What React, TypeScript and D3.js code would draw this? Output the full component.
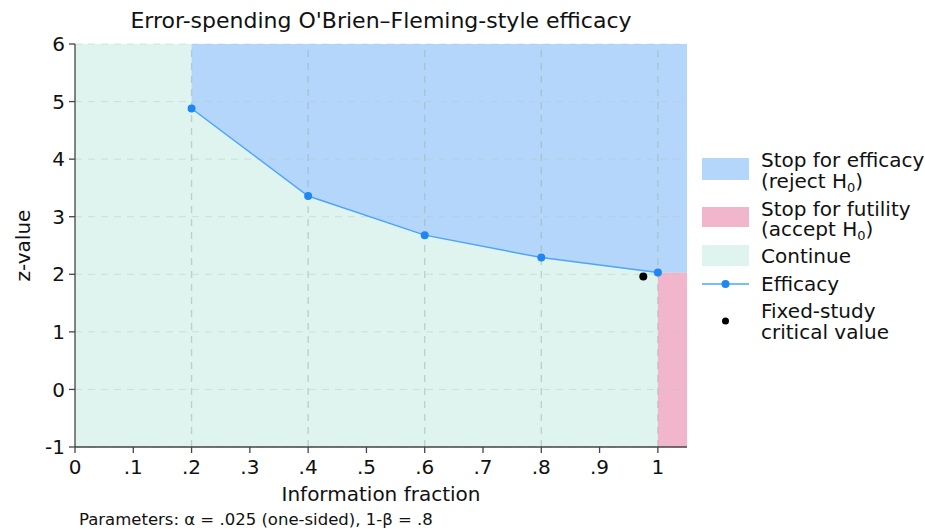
import React from "react";
import * as d3 from "d3";

const infoFrac = [0.2, 0.4, 0.6, 0.8, 1.0];
const efficacyZ = [4.88, 3.36, 2.68, 2.29, 2.03];
const fixedX = 0.975;
const fixedZ = 1.96;
const xTicks = [0, 0.1, 0.2, 0.3, 0.4, 0.5, 0.6, 0.7, 0.8, 0.9, 1];
const yTicks = [-1, 0, 1, 2, 3, 4, 5, 6];

const W = 925;
const H = 529;
const margin = { left: 75, right: 238, top: 44, bottom: 82 };
const font = "DejaVu Sans, sans-serif";

const fmtX = (v: number) => (v === 0 ? "0" : v === 1 ? "1" : d3.format(".1f")(v).replace(/^0/, ""));

const App = () => {
  const x = d3.scaleLinear().domain([0, 1.05]).range([margin.left, W - margin.right]);
  const y = d3.scaleLinear().domain([-1, 6]).range([H - margin.bottom, margin.top]);
  const pts = infoFrac.map((f, i) => [f, efficacyZ[i]] as [number, number]);
  const last = pts[pts.length - 1];

  const effArea = d3
    .area<[number, number]>()
    .x(d => x(d[0]))
    .y0(y(6))
    .y1(d => y(d[1]));
  const effPts = [...pts, [1.05, last[1]] as [number, number]];
  const line = d3
    .line<[number, number]>()
    .x(d => x(d[0]))
    .y(d => y(d[1]));

  const lx = 702;
  const tx = 761;
  return (
    <svg width={W} height={H} style={{ position: "absolute", left: 0, top: 0 }} fontFamily={font}>
      <rect x={x(0)} y={y(6)} width={x(1.05) - x(0)} height={y(-1) - y(6)} fill="#dff4ee" />
      <path d={effArea(effPts) || ""} fill="#b5d6fb" />
      <rect x={x(1)} y={y(last[1])} width={x(1.05) - x(1)} height={y(-1) - y(last[1])} fill="#f1b6cb" />
      {yTicks.map(t => (
        <line key={"gy" + t} x1={x(0)} x2={x(1.05)} y1={y(t)} y2={y(t)} stroke="#b0c8c0" strokeOpacity={0.45} strokeDasharray="7,6" />
      ))}
      {infoFrac.map(t => (
        <line key={"gx" + t} x1={x(t)} x2={x(t)} y1={y(-1)} y2={y(6)} stroke="#9fb0aa" strokeOpacity={0.55} strokeDasharray="7,6" strokeWidth={1.3} />
      ))}
      <path d={line(pts) || ""} fill="none" stroke="#4ea4f8" strokeWidth={1.5} />
      {pts.map(p => (
        <circle key={p[0]} cx={x(p[0])} cy={y(p[1])} r={4} fill="#1e87f2" />
      ))}
      <circle cx={x(fixedX)} cy={y(fixedZ)} r={4} fill="#000" />

      <line x1={x(0)} x2={x(0)} y1={y(6)} y2={y(-1)} stroke="#444" strokeWidth={1.3} />
      <line x1={x(0)} x2={x(1.05)} y1={y(-1)} y2={y(-1)} stroke="#444" strokeWidth={1.3} />
      {yTicks.map(t => (
        <g key={"ty" + t}>
          <line x1={x(0) - 6} x2={x(0)} y1={y(t)} y2={y(t)} stroke="#444" strokeWidth={1.3} />
          <text x={x(0) - 10} y={y(t)} dy="0.36em" textAnchor="end" fontSize={20} fill="#111">
            {t}
          </text>
        </g>
      ))}
      {xTicks.map(t => (
        <g key={"tx" + t}>
          <line x1={x(t)} x2={x(t)} y1={y(-1)} y2={y(-1) + 6} stroke="#444" strokeWidth={1.3} />
          <text x={x(t)} y={y(-1) + 27} textAnchor="middle" fontSize={20} fill="#111">
            {fmtX(t)}
          </text>
        </g>
      ))}
      <text x={(x(0) + x(1.05)) / 2} y={28} textAnchor="middle" fontSize={22} fill="#111">
        Error-spending O'Brien–Fleming-style efficacy
      </text>
      <text x={(x(0) + x(1.05)) / 2} y={501} textAnchor="middle" fontSize={20} fill="#111">
        Information fraction
      </text>
      <text transform={`translate(30,${(y(6) + y(-1)) / 2}) rotate(-90)`} textAnchor="middle" fontSize={20} fill="#111">
        z-value
      </text>
      <text x={79} y={525} fontSize={16.5} fill="#111">
        Parameters: α = .025 (one-sided), 1-β = .8
      </text>

      <g fontSize={20} fill="#111">
        <rect x={lx} y={158} width={47} height={22} fill="#b5d6fb" />
        <text x={tx} y={167}>Stop for efficacy</text>
        <text x={tx} y={188}>
          (reject H<tspan fontSize={13} dy={4}>0</tspan>
          <tspan dy={-4}>)</tspan>
        </text>
        <rect x={lx} y={207} width={47} height={20} fill="#f1b6cb" />
        <text x={tx} y={216}>Stop for futility</text>
        <text x={tx} y={236}>
          (accept H<tspan fontSize={13} dy={4}>0</tspan>
          <tspan dy={-4}>)</tspan>
        </text>
        <rect x={lx} y={245} width={47} height={21} fill="#dff4ee" />
        <text x={tx} y={263}>Continue</text>
        <line x1={lx} x2={lx + 47} y1={284} y2={284} stroke="#4ea4f8" strokeWidth={1.5} />
        <circle cx={lx + 23.5} cy={284} r={4} fill="#1e87f2" />
        <text x={tx} y={291}>Efficacy</text>
        <circle cx={lx + 23.5} cy={321} r={3.5} fill="#000" />
        <text x={tx} y={318}>Fixed-study</text>
        <text x={tx} y={339}>critical value</text>
      </g>
    </svg>
  );
};

export default App;
